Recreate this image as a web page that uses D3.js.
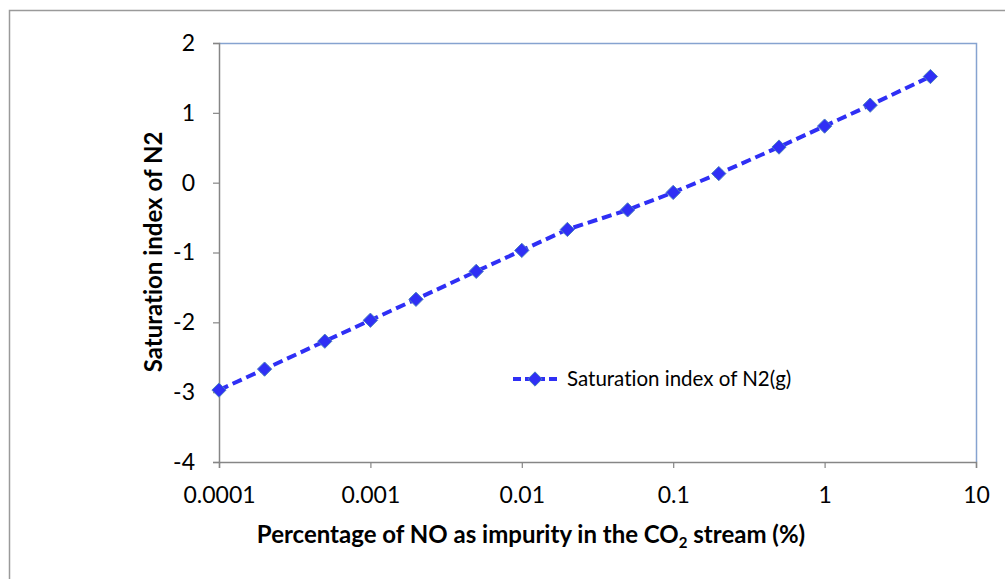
<!DOCTYPE html>
<html>
<head>
<meta charset="utf-8">
<script src="https://cdn.jsdelivr.net/npm/d3@7"></script>
<style>
  html, body { margin: 0; padding: 0; background: #fff; }
  svg { display: block; }
  text { font-family: Lato, "Open Sans", sans-serif; fill: #000; font-variant-ligatures: none; }
</style>
</head>
<body>
<svg id="chart" width="1005" height="579"></svg>
<script>
// NO content in the CO2 stream (%) and the corresponding N2(g) saturation index
const noPercent = [0.0001, 0.0002, 0.0005, 0.001, 0.002, 0.005, 0.01, 0.02, 0.05, 0.1, 0.2, 0.5, 1, 2, 5];
const saturationN2 = [-2.97, -2.67, -2.27, -1.97, -1.67, -1.27, -0.97, -0.67, -0.39, -0.14, 0.13, 0.51, 0.81, 1.11, 1.52];
const xTicks = [0.0001, 0.001, 0.01, 0.1, 1, 10];
const xTickLabels = ["0.0001", "0.001", "0.01", "0.1", "1", "10"];
const yTicks = [-4, -3, -2, -1, 0, 1, 2];
const yTickLabels = ["-4", "-3", "-2", "-1", "0", "1", "2"];
const seriesName = "Saturation index of N2(g)";

const svg = d3.select("#chart");
const plot = { left: 219, top: 43, right: 976, bottom: 462 };

// outer frame of the chart area
svg.append("path")
  .attr("d", "M9.5,579 V10.5 H1005")
  .attr("fill", "none").attr("stroke", "#9a9a9a").attr("stroke-width", 1.5);

const x = d3.scaleLog().domain([0.0001, 10]).range([plot.left, plot.right]);
const y = d3.scaleLinear().domain([-4, 2]).range([plot.bottom, plot.top]);

// top and right edges of the plot area
svg.append("path")
  .attr("d", `M${plot.left},${plot.top + 0.5} H${plot.right + 0.5} V${plot.bottom}`)
  .attr("fill", "none").attr("stroke", "#86a3d0").attr("stroke-width", 1.5);

// y axis
const yAxis = svg.append("g")
  .attr("transform", `translate(${plot.left},0)`)
  .call(d3.axisLeft(y).tickValues(yTicks).tickFormat((d, i) => yTickLabels[i]).tickSize(6).tickPadding(18));
yAxis.select(".domain").attr("stroke", "#868686").attr("stroke-width", 1.5);
yAxis.selectAll(".tick line").attr("stroke", "#868686").attr("stroke-width", 1.2);
yAxis.selectAll(".tick text").attr("font-size", 23).attr("font-family", "Lato, sans-serif").attr("fill", "#000");

// x axis (log)
const xAxis = svg.append("g")
  .attr("transform", `translate(0,${plot.bottom})`)
  .call(d3.axisBottom(x).tickValues(xTicks).tickFormat((d, i) => xTickLabels[i]).tickSize(6).tickPadding(19));
xAxis.select(".domain").attr("stroke", "#868686").attr("stroke-width", 1.5);
xAxis.selectAll(".tick line").attr("stroke", "#868686").attr("stroke-width", 1.2);
xAxis.selectAll(".tick text").attr("font-size", 23).attr("font-family", "Lato, sans-serif").attr("fill", "#000");

// axis titles
const xTitle = svg.append("text")
  .attr("x", 531).attr("y", 543)
  .attr("text-anchor", "middle")
  .attr("font-size", 24).attr("font-weight", "bold");
xTitle.append("tspan").text("Percentage of NO as impurity in the CO");
xTitle.append("tspan").text("2").attr("font-size", 15).attr("dy", 5);
xTitle.append("tspan").text(" stream (%)").attr("dy", -5);

svg.append("text")
  .attr("transform", "translate(162,252) rotate(-90)")
  .attr("text-anchor", "middle")
  .attr("font-size", 24).attr("font-weight", "bold")
  .text("Saturation index of N2");

// series line
const lineColor = "#2f2ff5";
const line = d3.line().x((d, i) => x(noPercent[i])).y(d => y(d));
svg.append("path")
  .datum(saturationN2)
  .attr("d", line)
  .attr("fill", "none")
  .attr("stroke", lineColor)
  .attr("stroke-width", 4)
  .attr("stroke-dasharray", "10,5");

// diamond markers
const diamond = d3.symbol().type(d3.symbolDiamond2).size(130);
svg.append("g").selectAll("path")
  .data(saturationN2)
  .join("path")
  .attr("d", diamond)
  .attr("transform", (d, i) => `translate(${x(noPercent[i])},${y(d)})`)
  .attr("fill", lineColor)
  .attr("stroke", "#4a7fc0")
  .attr("stroke-width", 1);

// legend
const legend = svg.append("g").attr("transform", "translate(513,379)");
legend.append("line")
  .attr("x1", 0).attr("x2", 44).attr("y1", 0).attr("y2", 0)
  .attr("stroke", lineColor).attr("stroke-width", 4).attr("stroke-dasharray", "8,4");
legend.append("path")
  .attr("d", diamond)
  .attr("transform", "translate(22,0)")
  .attr("fill", lineColor).attr("stroke", "#4a7fc0").attr("stroke-width", 1);
legend.append("text")
  .attr("x", 54).attr("y", 7)
  .attr("font-size", 20.5)
  .text(seriesName);
</script>
</body>
</html>
